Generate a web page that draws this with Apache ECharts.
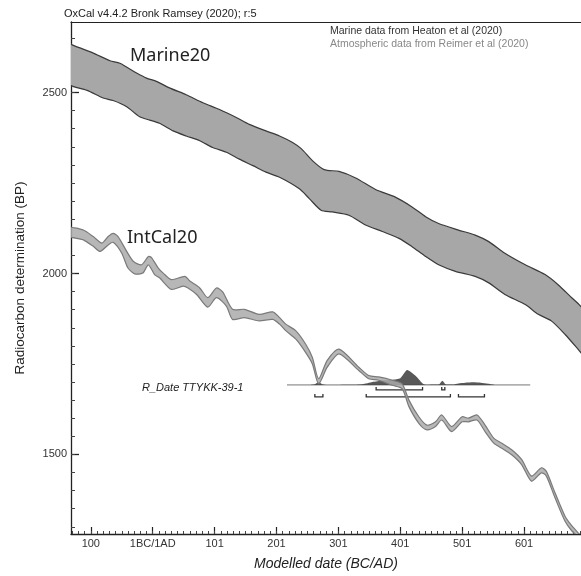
<!DOCTYPE html>
<html><head><meta charset="utf-8">
<script src="https://cdn.jsdelivr.net/npm/echarts@6/dist/echarts.min.js"></script>
<style>html,body{margin:0;padding:0;background:#fff}#c{width:581px;height:576px}</style>
</head><body><div id="c"></div>
<script>
// ---- data ----
const xTickValues = [-100, 0, 100, 200, 300, 400, 500, 600];
const xTickLabels = ['100', '1BC/1AD', '101', '201', '301', '401', '501', '601'];
const yTickValues = [1500, 2000, 2500];
const yTickLabels = ['1500', '2000', '2500'];

const marineUpper = [[-134,2637],[-129,2631],[-96,2609],[-69,2588],[-53,2581],[-26,2554],[-10,2540],[6,2531],[27,2513],[54,2494],[81,2472],[108,2453],[135,2431],[156,2412],[183,2394],[205,2380],[226,2362],[240,2345],[258,2312],[277,2287],[301,2282],[328,2264],[360,2232],[392,2211],[419,2184],[441,2157],[462,2138],[494,2120],[521,2106],[543,2088],[569,2056],[602,2024],[634,1997],[655,1969],[677,1933],[689,1914],[695,1903]];
const marineLower = [[-134,2522],[-129,2517],[-106,2506],[-80,2485],[-64,2478],[-42,2461],[-21,2433],[-5,2424],[11,2415],[33,2394],[54,2380],[76,2367],[97,2348],[119,2335],[140,2316],[162,2298],[183,2280],[205,2266],[237,2234],[253,2207],[272,2175],[290,2170],[317,2161],[344,2134],[371,2116],[398,2097],[419,2074],[441,2047],[462,2024],[489,2006],[521,1992],[543,1974],[569,1942],[602,1914],[623,1887],[644,1869],[666,1832],[689,1787],[695,1775]];

const intcalUpper = [[-134,2128],[-129,2127],[-112,2120],[-96,2102],[-82,2084],[-72,2102],[-64,2111],[-56,2102],[-42,2061],[-31,2033],[-18,2024],[-7,2047],[-2,2044],[9,2015],[17,2001],[30,1983],[52,1992],[60,1979],[76,1960],[89,1933],[103,1960],[113,1949],[129,1901],[148,1901],[172,1887],[194,1894],[205,1878],[215,1860],[231,1842],[247,1805],[258,1768],[268,1709],[282,1760],[301,1791],[333,1741],[349,1718],[365,1714],[387,1705],[403,1695],[414,1650],[430,1604],[443,1581],[457,1590],[467,1609],[483,1577],[500,1604],[510,1600],[524,1609],[537,1581],[551,1545],[564,1531],[580,1513],[596,1486],[612,1440],[628,1463],[636,1453],[650,1394],[666,1330],[677,1303],[687,1284],[695,1270]];
const intcalLower = [[-134,2100],[-129,2099],[-112,2093],[-96,2075],[-85,2061],[-72,2079],[-64,2086],[-50,2056],[-40,2015],[-29,1999],[-16,2001],[-7,2024],[3,1997],[11,1988],[30,1956],[49,1965],[57,1960],[71,1942],[89,1907],[103,1933],[119,1910],[129,1873],[148,1878],[172,1869],[194,1873],[205,1860],[215,1842],[231,1819],[247,1782],[258,1750],[268,1695],[282,1741],[301,1778],[333,1732],[349,1709],[365,1705],[387,1691],[403,1682],[414,1632],[430,1586],[443,1568],[457,1577],[467,1595],[483,1563],[500,1590],[510,1590],[524,1595],[537,1563],[551,1531],[564,1517],[580,1499],[596,1472],[612,1426],[628,1449],[636,1440],[650,1380],[666,1316],[677,1289],[687,1273],[695,1260]];

// R_Date posterior: [year, relative probability]
const posterior = [[255,0],[262,0.05],[268,0.2],[274,0.05],[282,0],[320,0.01],[339,0.05],[355,0.2],[371,0.3],[387,0.35],[400,0.45],[411,1.0],[425,0.6],[438,0.05],[455,0.02],[463,0.05],[468,0.27],[473,0.05],[485,0.03],[494,0.1],[505,0.15],[518,0.18],[530,0.15],[542,0.08],[552,0]];
const range68 = [[361,436],[467,472]];
const range95 = [[262,275],[345,481],[494,536]];
const rDateSpan = [217, 610];
const rDateBaseBP = 1692;

// ---- chart ----
const chart = echarts.init(document.getElementById('c'), null, {renderer: 'canvas'});
const FONT = 'Liberation Sans, Arial, sans-serif';

function bandRender(up, low, fill, stroke) {
  return function (params, api) {
    const pu = up.map(p => api.coord(p));
    const pl = low.map(p => api.coord(p));
    return {
      type: 'group',
      children: [
        {type: 'polygon', shape: {points: pu.concat(pl.slice().reverse()), smooth: 0.25}, style: {fill: fill}},
        {type: 'polyline', shape: {points: pu, smooth: 0.25}, style: {stroke: stroke, lineWidth: 1.2, fill: null}},
        {type: 'polyline', shape: {points: pl, smooth: 0.25}, style: {stroke: stroke, lineWidth: 1.2, fill: null}}
      ]
    };
  };
}

function rDateRender(params, api) {
  const H = 15;
  const base = api.coord([rDateSpan[0], rDateBaseBP])[1];
  const pts = posterior.map(p => { const c = api.coord([p[0], rDateBaseBP]); return [c[0], base - p[1] * H]; });
  const children = [];
  children.push({type: 'line', shape: {x1: api.coord([rDateSpan[0], rDateBaseBP])[0], y1: base, x2: api.coord([rDateSpan[1], rDateBaseBP])[0], y2: base}, style: {stroke: '#777', lineWidth: 1}});
  children.push({type: 'polygon', shape: {points: pts, smooth: 0.2}, style: {fill: 'rgba(70,70,70,0.9)'}});
  function bracket(r, dy) {
    const x1 = api.coord([r[0], rDateBaseBP])[0], x2 = api.coord([r[1], rDateBaseBP])[0];
    const y = base + dy;
    return {type: 'polyline', shape: {points: [[x1, y - 3], [x1, y], [x2, y], [x2, y - 3]]}, style: {stroke: '#333', lineWidth: 1.3, fill: null}};
  }
  range68.forEach(r => children.push(bracket(r, 5)));
  range95.forEach(r => children.push(bracket(r, 12)));
  return {type: 'group', children: children};
}

const minorX = [];
for (let v = -130; v <= 690; v += 10) minorX.push(v);
const minorY = [];
for (let v = 1300; v <= 2650; v += 50) minorY.push(v);

const XMIN = -132, XMAX = 692, YMIN = 1280, YMAX = 2695;

chart.setOption({
  animation: false,
  backgroundColor: '#fff',
  grid: {left: 71, top: 22, right: -2, bottom: 38, show: false},
  xAxis: [
    {type: 'value', min: XMIN, max: XMAX, position: 'bottom',
     axisLine: {show: true, onZero: false, lineStyle: {color: '#222', width: 1.3}},
     axisTick: {show: true, inside: true, length: 7, customValues: xTickValues, lineStyle: {color: '#222', width: 1.2}},
     axisLabel: {show: true, customValues: xTickValues, margin: 4, color: '#333', fontFamily: FONT, fontSize: 11,
       formatter: v => { const i = xTickValues.indexOf(v); return i >= 0 ? xTickLabels[i] : ''; }},
     splitLine: {show: false},
     name: 'Modelled date (BC/AD)', nameLocation: 'middle', nameGap: 23,
     nameTextStyle: {fontFamily: FONT, fontSize: 14, fontStyle: 'italic', color: '#222'}},
    {type: 'value', min: XMIN, max: XMAX, position: 'bottom',
     axisLine: {show: false, onZero: false},
     axisTick: {show: true, inside: true, length: 3, customValues: minorX, lineStyle: {color: '#444', width: 1}},
     axisLabel: {show: false}, splitLine: {show: false}},
    {type: 'value', min: XMIN, max: XMAX, position: 'top',
     axisLine: {show: true, onZero: false, lineStyle: {color: '#222', width: 1.2}},
     axisTick: {show: false}, axisLabel: {show: false}, splitLine: {show: false}}
  ],
  yAxis: [
    {type: 'value', min: YMIN, max: YMAX, position: 'left',
     axisLine: {show: true, onZero: false, lineStyle: {color: '#222', width: 1.3}},
     axisTick: {show: true, inside: true, length: 8, customValues: yTickValues, lineStyle: {color: '#222', width: 1.3}},
     axisLabel: {show: true, customValues: yTickValues, margin: 4, color: '#333', fontFamily: FONT, fontSize: 11,
       formatter: v => { const i = yTickValues.indexOf(v); return i >= 0 ? yTickLabels[i] : ''; }},
     splitLine: {show: false},
     name: 'Radiocarbon determination (BP)', nameLocation: 'middle', nameGap: 44, nameRotate: 90,
     nameTextStyle: {fontFamily: FONT, fontSize: 13.5, color: '#222'}},
    {type: 'value', min: YMIN, max: YMAX, position: 'left',
     axisLine: {show: false, onZero: false},
     axisTick: {show: true, inside: true, length: 4, customValues: minorY, lineStyle: {color: '#444', width: 1}},
     axisLabel: {show: false}, splitLine: {show: false}}
  ],
  series: [
    {type: 'custom', name: 'Marine20', xAxisIndex: 0, yAxisIndex: 0, clip: true, silent: true,
     renderItem: bandRender(marineUpper, marineLower, '#a7a7a7', '#3a3a3a'), data: [[0, 2000]]},
    {type: 'custom', name: 'R_Date', xAxisIndex: 0, yAxisIndex: 0, clip: true, silent: true,
     renderItem: rDateRender, data: [[0, 2000]]},
    {type: 'custom', name: 'IntCal20', xAxisIndex: 0, yAxisIndex: 0, clip: true, silent: true,
     renderItem: bandRender(intcalUpper, intcalLower, 'rgba(170,170,170,0.85)', '#7a7a7a'), data: [[0, 2000]]}
  ],
  graphic: [
    {type: 'text', left: 64, top: 8, style: {text: 'OxCal v4.4.2 Bronk Ramsey (2020); r:5', font: '11px ' + FONT, fill: '#222'}},
    {type: 'text', left: 330, top: 26, style: {text: 'Marine data from Heaton et al (2020)', font: '10.5px ' + FONT, fill: '#333'}},
    {type: 'text', left: 330, top: 39, style: {text: 'Atmospheric data from Reimer et al (2020)', font: '10.5px ' + FONT, fill: '#888'}},
    {type: 'text', left: 130, top: 47, style: {text: 'Marine20', font: '18px "Noto Sans", sans-serif', fill: '#222'}},
    {type: 'text', left: 127, top: 229, style: {text: 'IntCal20', font: '18px "Noto Sans", sans-serif', fill: '#222'}},
    {type: 'text', left: 142, top: 382, style: {text: 'R_Date TTYKK-39-1', font: 'italic 11px ' + FONT, fill: '#222'}}
  ]
});
</script>
</body></html>
